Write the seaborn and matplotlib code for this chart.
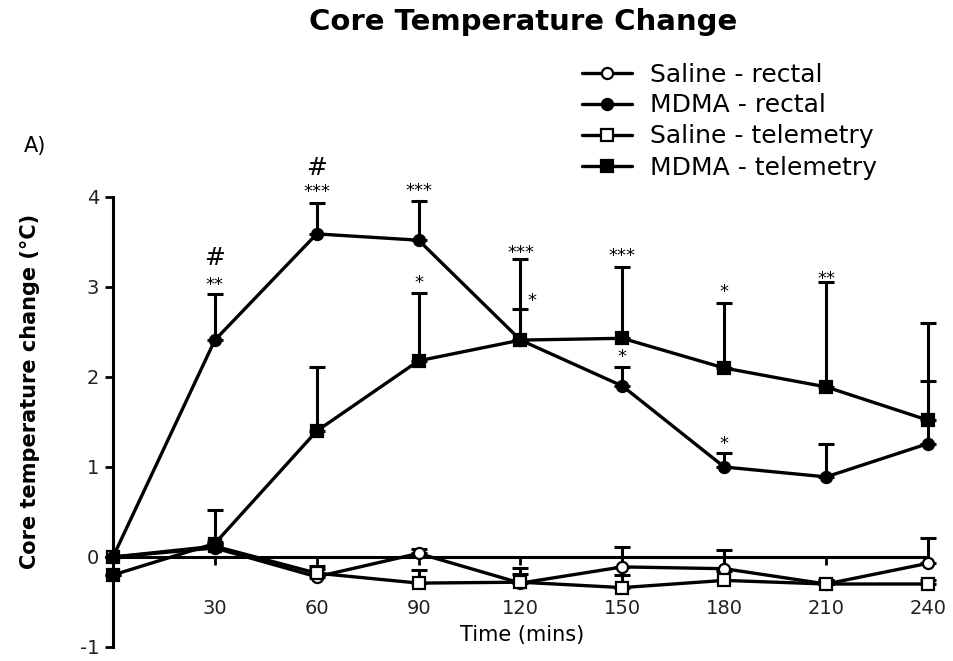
import matplotlib
matplotlib.use("Agg")
import matplotlib.pyplot as plt
import seaborn as sns
import numpy as np
import pandas as pd

# Time points (mins)
times = [0, 30, 60, 90, 120, 150, 180, 210, 240]

# Mean core temperature change (deg C) for each group
saline_rectal = [0.00, 0.10, -0.22, 0.04, -0.29, -0.11, -0.13, -0.30, -0.07]
mdma_rectal = [0.00, 2.41, 3.59, 3.52, 2.41, 1.90, 1.00, 0.89, 1.26]
saline_telemetry = [0.00, 0.12, -0.18, -0.29, -0.28, -0.34, -0.26, -0.30, -0.30]
mdma_telemetry = [-0.20, 0.15, 1.40, 2.18, 2.41, 2.43, 2.10, 1.89, 1.52]

# Upper SEM bars
saline_rectal_err = [0.00, 0.05, 0.12, 0.05, 0.10, 0.22, 0.21, 0.05, 0.28]
mdma_rectal_err = [0.00, 0.51, 0.34, 0.44, 0.35, 0.21, 0.16, 0.37, 0.70]
saline_telemetry_err = [0.00, 0.05, 0.05, 0.15, 0.16, 0.14, 0.11, 0.05, 0.05]
mdma_telemetry_err = [0.00, 0.37, 0.71, 0.75, 0.90, 0.79, 0.72, 1.17, 1.08]

group_names = ["Saline - rectal", "MDMA - rectal", "Saline - telemetry", "MDMA - telemetry"]

# Significance marks: (time, y, text)
sig_marks = [
    (30, 3.02, "**"), (60, 4.06, "***"), (90, 4.07, "***"), (90, 3.04, "*"),
    (120, 3.38, "***"), (123.5, 2.84, "*"), (150, 3.35, "***"), (150, 2.22, "*"),
    (180, 2.94, "*"), (180, 1.26, "*"), (210, 3.09, "**"),
]
hash_marks = [(30, 3.32, "#"), (60, 4.32, "#")]

sns.set_theme(style="white")
plt.rcParams["font.family"] = ["DejaVu Sans"]
plt.rcParams["axes.unicode_minus"] = False
plt.rcParams["text.color"] = "black"

df = pd.DataFrame({
    "time": times * 4,
    "change": saline_rectal + mdma_rectal + saline_telemetry + mdma_telemetry,
    "err": saline_rectal_err + mdma_rectal_err + saline_telemetry_err + mdma_telemetry_err,
    "group": sum([[g] * len(times) for g in group_names], []),
})

styles = {
    "Saline - rectal": dict(marker="o", markerfacecolor="white", markersize=8, zorder=3),
    "MDMA - rectal": dict(marker="o", markerfacecolor="black", markersize=8, zorder=5),
    "Saline - telemetry": dict(marker="s", markerfacecolor="white", markersize=8, zorder=3.5),
    "MDMA - telemetry": dict(marker="s", markerfacecolor="black", markersize=8, zorder=4.5),
}

fig = plt.figure(figsize=(9.54, 6.61), dpi=100)
ax = fig.add_axes([96 / 954, 14 / 661, 849 / 954, 450 / 661])

for g in group_names:
    sub = df[df["group"] == g]
    ax.errorbar(sub["time"], sub["change"], yerr=[np.zeros(len(sub)), sub["err"]],
                fmt="none", ecolor="black", elinewidth=2.2, capsize=6, capthick=2.2,
                zorder=2, clip_on=False)
    sns.lineplot(data=sub, x="time", y="change", ax=ax, color="black", linewidth=2.4,
                 markeredgecolor="black", markeredgewidth=1.6, label=g,
                 clip_on=False, **styles[g])

ax.set_xlim(-5, 245)
ax.set_ylim(-1, 4)
ax.spines["left"].set_position(("data", 0))
ax.spines["bottom"].set_position(("data", 0))
ax.spines["bottom"].set_bounds(0, 240)
ax.spines["right"].set_visible(False)
ax.spines["top"].set_visible(False)
for s in ("left", "bottom"):
    ax.spines[s].set_linewidth(2.2)
    ax.spines[s].set_color("black")
    ax.spines[s].set_zorder(2.5)

ax.set_xticks(times[1:])
ax.set_yticks([-1, 0, 1, 2, 3, 4])
ax.tick_params(axis="both", which="major", direction="out", length=6, width=2,
               color="black", labelsize=14, labelcolor="#222222",
               bottom=True, left=True)
ax.tick_params(axis="y", pad=4)
ax.tick_params(axis="x", pad=24)
ax.set_xlabel("")
ax.set_ylabel("")

for x, y, s in sig_marks:
    ax.text(x, y, s, ha="center", va="center", fontsize=13, color="black")
for x, y, s in hash_marks:
    ax.text(x, y, s, ha="center", va="center", fontsize=18, color="black")

ax.legend(loc="upper left", bbox_to_anchor=(570 / 954, 1 - 50 / 661),
          bbox_transform=fig.transFigure, frameon=False, fontsize=18,
          handlelength=2.0, handletextpad=0.7, labelspacing=0.28, borderpad=0)

fig.text(523 / 954, 1 - 22 / 661, "Core Temperature Change", ha="center", va="center",
         fontsize=21, fontweight="bold")
fig.text(35 / 954, 1 - 146 / 661, "A)", ha="center", va="center", fontsize=15)
fig.text(522 / 954, 1 - 635 / 661, "Time (mins)", ha="center", va="center", fontsize=15)
fig.text(30 / 954, 1 - 391 / 661, "Core temperature change (\u00b0C)", ha="center",
         va="center", rotation=90, fontsize=15, fontweight="bold")

fig.savefig("out.png", dpi=100)
